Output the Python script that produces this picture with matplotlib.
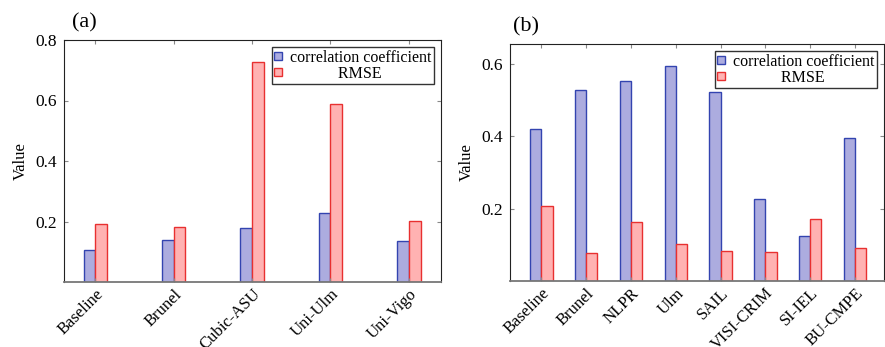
import numpy as np
import matplotlib.pyplot as plt

plt.rcParams['font.family'] = ['Liberation Serif', 'DejaVu Serif']

# panel (a)
names_a = ['Baseline', 'Brunel', 'Cubic-ASU', 'Uni-Ulm', 'Uni-Vigo']
corr_a = [0.105, 0.140, 0.178, 0.229, 0.134]
rmse_a = [0.193, 0.181, 0.727, 0.588, 0.203]

# panel (b)
names_b = ['Baseline', 'Brunel', 'NLPR', 'Ulm', 'SAIL', 'VISI-CRIM', 'SI-IEL', 'BU-CMPE']
corr_b = [0.419, 0.527, 0.552, 0.595, 0.523, 0.226, 0.123, 0.394]
rmse_b = [0.208, 0.078, 0.164, 0.101, 0.083, 0.080, 0.172, 0.092]

blue_face, blue_edge = '#acacdf', '#3344b0'
red_face, red_edge = '#ffb2b2', '#e83030'

fig = plt.figure(figsize=(8.85, 3.47), dpi=100)
ax1 = fig.add_axes([64/885, 1-282/347, (441-64)/885, (282-40)/347])
ax2 = fig.add_axes([510/885, 1-281/347, (884-510)/885, (281-44)/347])


def panel(ax, names, corr, rmse, w, xlim, ylim, yticks, tag, tagx):
    x = np.arange(len(names))
    ax.bar(x - w/2, corr, w, color=blue_face, edgecolor=blue_edge, lw=1.0,
           label='correlation coefficient')
    ax.bar(x + w/2, rmse, w, color=red_face, edgecolor=red_edge, lw=1.0,
           label='            RMSE')
    ax.set_xlim(*xlim)
    ax.set_ylim(*ylim)
    ax.set_xticks(x)
    ax.set_xticklabels(names, rotation=45, ha='right', rotation_mode='anchor', fontsize=12)
    ax.set_yticks(yticks)
    ax.set_yticklabels(['%.1f' % v for v in yticks], fontsize=12.5)
    ax.tick_params(direction='in', length=3, top=True, right=True, color='#888888', pad=5)
    ax.tick_params(axis='x', pad=3)
    ax.set_ylabel('Value', fontsize=12, labelpad=5)
    for s in ['top', 'right', 'left']:
        ax.spines[s].set_color('#222222')
    ax.spines['bottom'].set_color('#777777')
    ax.spines['bottom'].set_linewidth(1.3)
    ax.text(tagx, 1.03, tag, transform=ax.transAxes, fontsize=16, va='bottom', ha='left')
    leg = ax.legend(loc='upper right', fontsize=11.5, frameon=True, fancybox=False,
                    handlelength=0.5, handleheight=0.4, handletextpad=0.5,
                    borderpad=0.15, labelspacing=0.0, borderaxespad=0.45)
    leg.get_frame().set_edgecolor('black')
    leg.get_frame().set_linewidth(1.0)


panel(ax1, names_a, corr_a, rmse_a, 0.15, (-0.4, 4.41), (0, 0.8),
      [0.2, 0.4, 0.6, 0.8], '(a)', 0.02)
panel(ax2, names_b, corr_b, rmse_b, 0.25, (-0.7, 7.65), (0, 0.655),
      [0.2, 0.4, 0.6], '(b)', 0.008)

fig.savefig('out.png', dpi=100)
